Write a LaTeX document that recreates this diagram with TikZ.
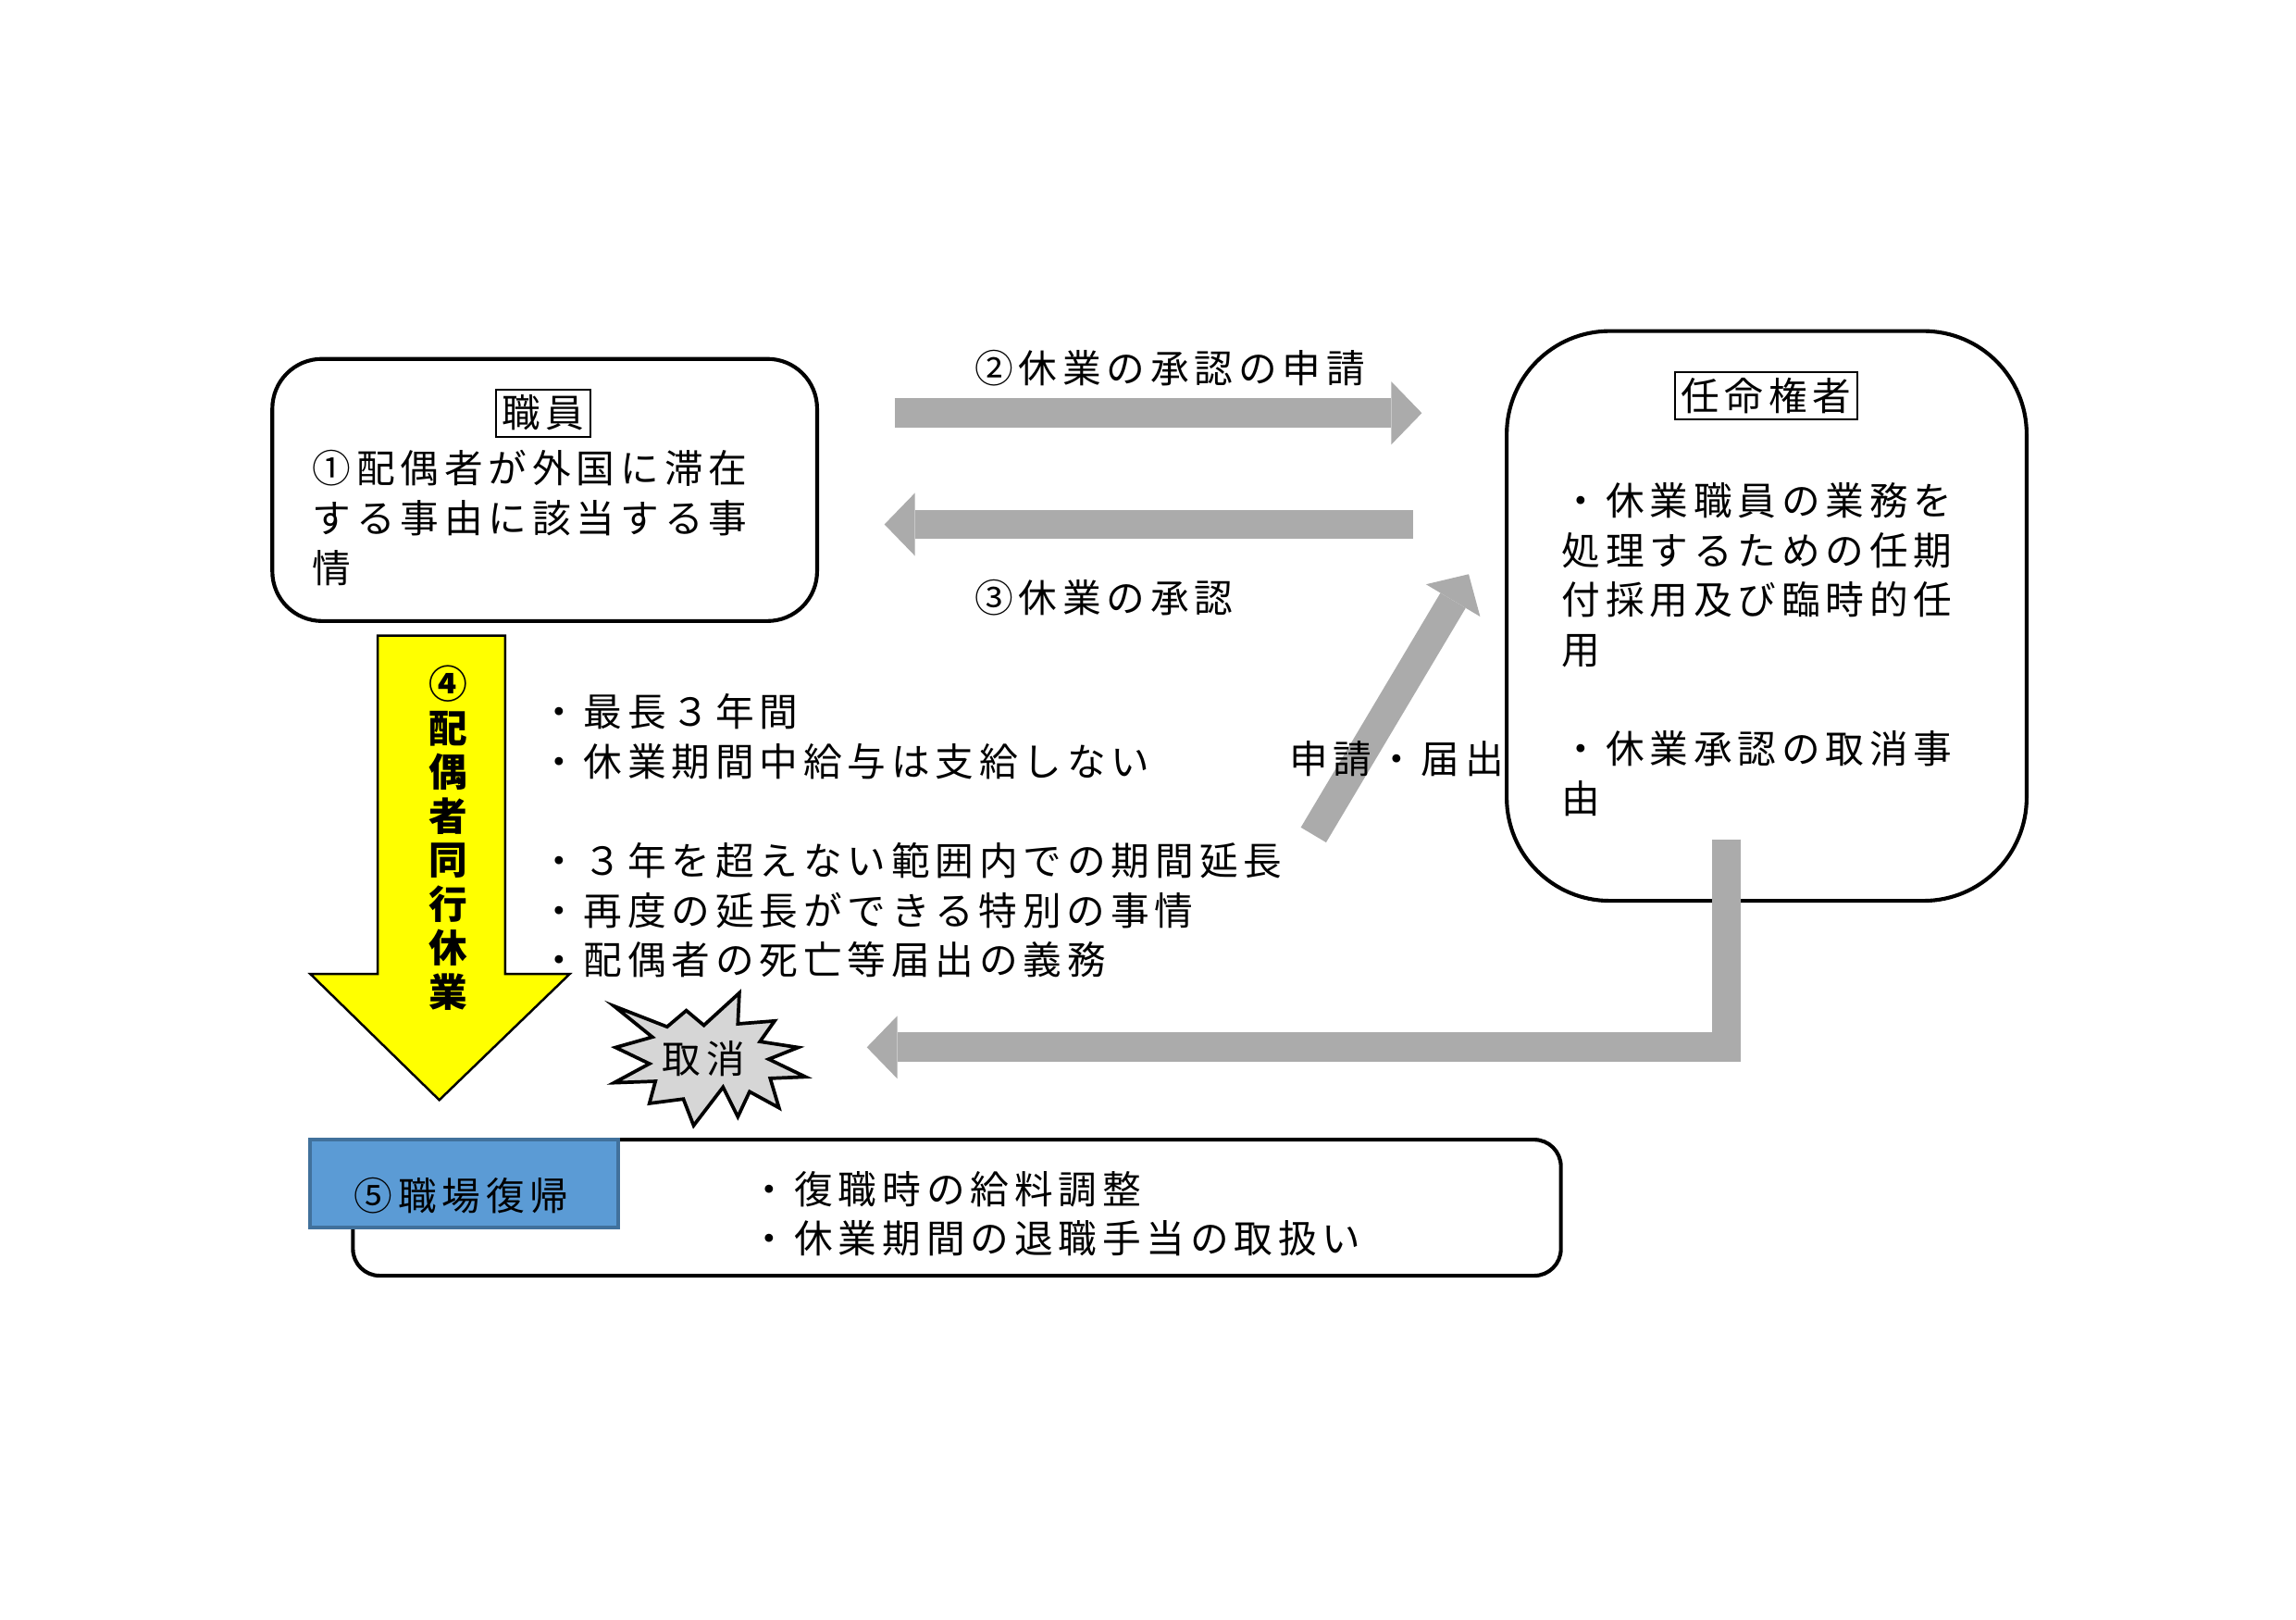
\documentclass[tikz,border=0pt]{standalone}
\usepackage{fontspec}
\setmainfont{Noto Sans CJK JP}[LetterSpace=14]
\usetikzlibrary{arrows.meta}
\definecolor{arrowgray}{HTML}{ABABAB}
\definecolor{burstgray}{HTML}{D6D6D6}
\definecolor{leaveyellow}{HTML}{FFFF00}
\definecolor{returnblue}{HTML}{5B9BD5}
\definecolor{returnborder}{HTML}{41719C}

\begin{document}
\begin{tikzpicture}[x=0.3833pt,y=-0.3833pt]
\tikzset{txt/.style = {font=\fontsize{10.1pt}{13pt}\selectfont, inner sep=0pt}}
\tikzset{list/.style = {txt, align=left, anchor=north west}}
\tikzset{box/.style = {draw, line width=1pt, rounded corners=#1}}
\tikzset{title/.style = {txt, draw, line width=0.5pt, inner sep=1.5pt}}
\tikzset{fat/.style = {arrowgray, line width=7.7pt, -{Triangle[width=16.5pt,length=8pt,line width=0pt]}}}
\useasboundingbox (0,0) rectangle (1568,1105.4);

% boxes
\node[box=13pt, minimum width=142.6pt, minimum height=68.6pt] (staff) at (372,334.5) {};
\node[title] (staffTitle) at (371,282) {職員};
\node[list] (staffText) at (213,307) {①配偶者が外国に滞在\\する事由に該当する事\\情};

\node[box=27pt, minimum width=136.1pt, minimum height=149.1pt] (appointer) at (1206.5,420.5) {};
\node[title] (appointerTitle) at (1206,270) {任命権者};
\node[list] (appointerText) at (1066,329) {・休業職員の業務を\\処理するための任期\\付採用及び臨時的任\\用\\[13pt]・休業承認の取消事\\由};

\node[box=7pt, minimum width=316.2pt, minimum height=35.6pt] (returnBox) at (653.5,824.5) {};
\node[draw=returnborder, fill=returnblue, line width=1pt, minimum width=80.5pt, minimum height=23pt] (returnTitle) at (317,808) {};
\node[txt] (returnLabel) at (315,816) {⑤職場復帰};
\node[list] (returnText) at (512,799) {・復職時の給料調整\\・休業期間の退職手当の取扱い};

% leave arrow
\filldraw[fill=leaveyellow, draw=black, line width=0.6pt] (258,434) -- (345,434) -- (345,665) -- (389,665) -- (300,751) -- (212,665) -- (258,665) -- cycle;
\node[txt, font=\bfseries\fontsize{10.1pt}{11.5pt}\selectfont, align=center] (leave) at (306,572) {④\\配\\偶\\者\\同\\行\\休\\業};
\node[list] (terms) at (368,473) {・最長３年間\\・休業期間中給与は支給しない\\[13pt]・３年を超えない範囲内での期間延長\\・再度の延長ができる特別の事情\\・配偶者の死亡等届出の義務};

% edges
\coordinate (reqTail) at (611,282);
\coordinate (reqHead) at (971,282);
\coordinate (apprTail) at (965,358);
\coordinate (apprHead) at (604,358);
\coordinate (notifyTail) at (897,570);
\coordinate (notifyHead) at (1003,392);
\coordinate (cancelTail) at (1179,573);
\coordinate (cancelHead) at (592,715);
\draw[fat] (reqTail) -- (reqHead);
\draw[fat] (apprTail) -- (apprHead);
\draw[fat] (notifyTail) -- (notifyHead);
\draw[fat] (cancelTail) |- (cancelHead);

% labels
\node[txt, anchor=west] (reqLabel) at (665,251) {②休業の承認の申請};
\node[txt, anchor=west] (apprLabel) at (665,408) {③休業の承認};
\node[txt, anchor=west] (notifyLabel) at (880,518) {申請・届出};

% cancel burst
\filldraw[fill=burstgray, draw=black, line width=0.9pt] (419.4,686.9) -- (455.6,701) -- (468.7,689.9) -- (480.7,700) -- (504.9,677.9) -- (503.9,699) -- (529,697) -- (519,711.1) -- (545.1,715.1) -- (525,723.1) -- (550.1,735.2) -- (526,736.2) -- (532,756.3) -- (511.9,745.3) -- (503.9,762.4) -- (493.8,742.2) -- (473.7,768.4) -- (466.7,750.3) -- (443.5,753.3) -- (447.6,738.2) -- (419.4,739.2) -- (443.5,726.2) -- (420.4,715.1) -- (445.5,708) -- cycle;
\node[txt] (cancel) at (480.7,723) {取消};

\end{tikzpicture}
\end{document}
